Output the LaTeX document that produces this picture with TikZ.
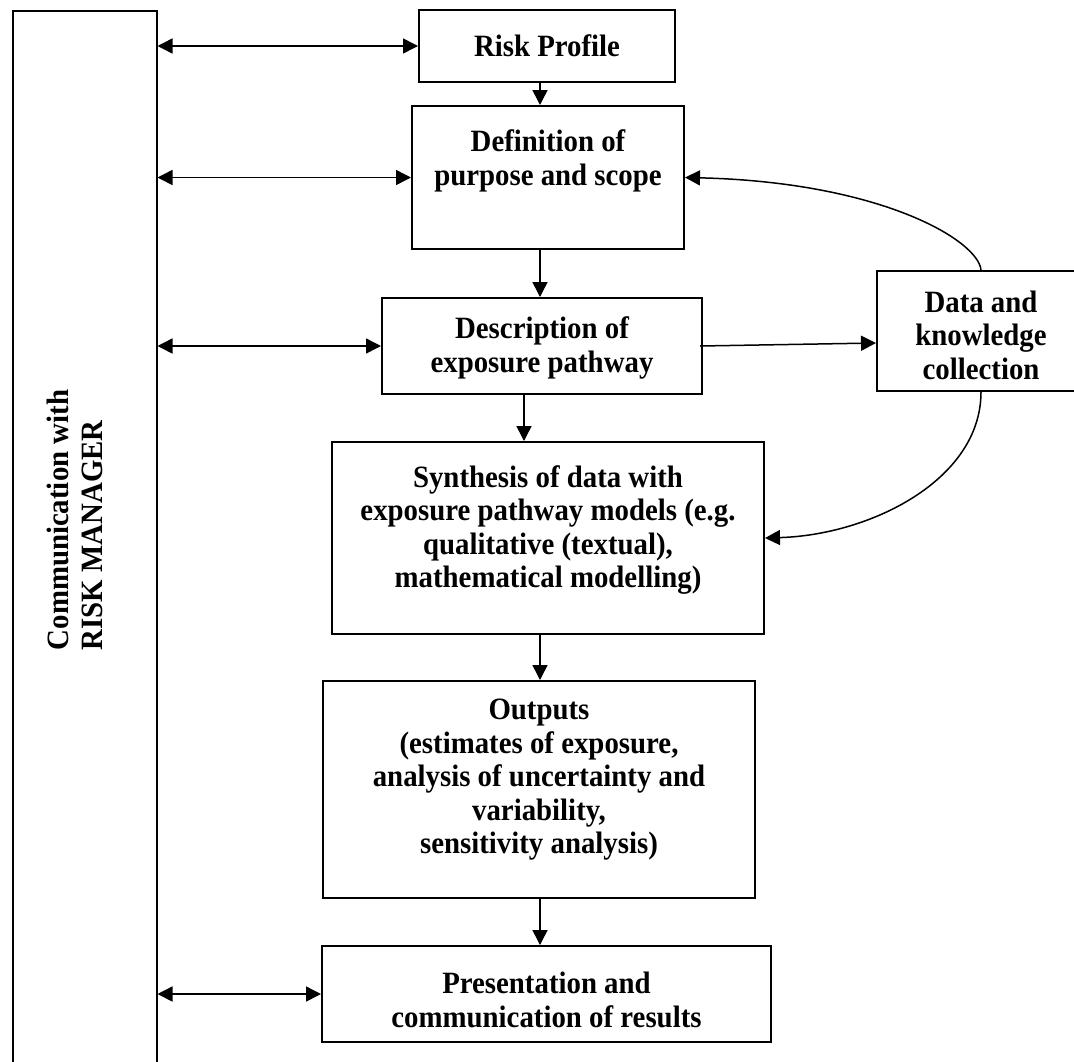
\documentclass[tikz,border=0pt]{standalone}
\usepackage{fontspec}
\setmainfont{Liberation Serif}[FakeStretch=0.93]
\usetikzlibrary{arrows.meta}
\begin{document}
\begin{tikzpicture}[x=1pt,y=-1pt,
  box/.style={draw, line width=2pt, inner sep=0pt, rectangle},
  txt/.style={font=\fontsize{31}{33.5}\selectfont\bfseries, align=center, inner sep=0pt},
  arr/.style={line width=1.5pt, -{Triangle[length=15pt,width=15pt]}},
  dbl/.style={line width=1.5pt, {Triangle[length=15pt,width=15pt]}-{Triangle[length=15pt,width=15pt]}}]
\useasboundingbox[fill=white] (0,0) rectangle (1074,1061);
% left column
\node[draw, line width=1.5pt, inner sep=0pt, minimum width=144pt, minimum height=1090pt, anchor=north west] (lbox) at (12,10) {};
\node[txt, align=left, rotate=90] (lboxt) at (75,520) {Communication with\\RISK MANAGER};
% boxes
\node[box, minimum width=256pt, minimum height=72pt] (rp) at (547,46) {};
\node[txt] (rpt) at (547,46) {Risk Profile};
\node[box, minimum width=272pt, minimum height=143pt] (def) at (548,177.5) {};
\node[txt] (deft) at (548,161) {Definition of\\purpose and scope};
\node[box, minimum width=320pt, minimum height=96pt] (desc) at (542,346) {};
\node[txt] (desct) at (542,348) {Description of\\exposure pathway};
\node[box, minimum width=432pt, minimum height=192pt] (synth) at (548,538) {};
\node[txt] (syntht) at (548,530) {Synthesis of data with\\exposure pathway models (e.g.\\qualitative (textual),\\mathematical modelling)};
\node[box, minimum width=432pt, minimum height=217pt] (out) at (539,789.5) {};
\node[txt] (outt) at (539,780) {Outputs\\(estimates of exposure,\\analysis of uncertainty and\\variability,\\sensitivity analysis)};
\node[box, minimum width=449pt, minimum height=96pt] (pres) at (546.5,994) {};
\node[txt] (prest) at (546.5,1000) {Presentation and\\communication of results};
\node[box, minimum width=208pt, minimum height=120pt] (data) at (981,331) {};
\node[txt] (datat) at (981,335) {Data and\\knowledge\\collection};
% columns for vertical arrows
\coordinate (colA) at (540,0);
\coordinate (colB) at (524,0);
% vertical flow
\draw[arr] (rp.south -| colA) -- (def.north -| colA);
\draw[arr] (def.south -| colA) -- (desc.north -| colA);
\draw[arr] (desc.south -| colB) -- (synth.north -| colB);
\draw[arr] (synth.south -| colA) -- (out.north -| colA);
\draw[arr] (out.south -| colA) -- (pres.north -| colA);
% communication arrows
\draw[dbl] (rp.west -| lbox.east) -- (rp.west);
\draw[dbl] (def.west -| lbox.east) -- (def.west);
\draw[dbl] (desc.west -| lbox.east) -- (desc.west);
\draw[dbl] (pres.west -| lbox.east) -- (pres.west);
% data links
\draw[arr] ([xshift=-3pt]desc.east) -- ([yshift=-12pt]data.west);
\draw[arr] (data.north) .. controls (978,240) and (880,182) .. (def.east);
\draw[arr] (data.south) .. controls (981,480) and (870,535) .. (synth.east);
\end{tikzpicture}
\end{document}
